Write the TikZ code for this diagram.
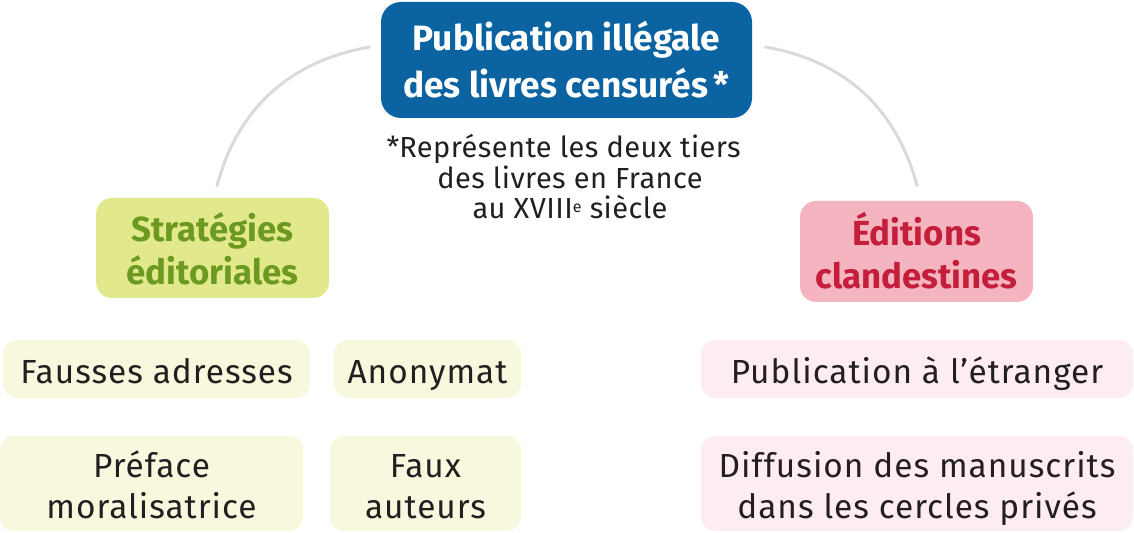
\documentclass[tikz,border=0pt]{standalone}
\usepackage{fontspec}
\setmainfont{Fira Sans}
\usepackage{tikz}
\usetikzlibrary{positioning}

\definecolor{mainblue}{HTML}{0B63A1}
\definecolor{stratfill}{HTML}{E2E98C}
\definecolor{strattext}{HTML}{6C9A20}
\definecolor{editfill}{HTML}{F4B5C0}
\definecolor{edittext}{HTML}{C41E3A}
\definecolor{stratlight}{HTML}{F8F8DE}
\definecolor{editlight}{HTML}{FDEDF0}
\definecolor{linkgray}{HTML}{DADADA}
\definecolor{inkdark}{HTML}{231F20}

\newcommand{\supe}{{\fontsize{8}{8}\selectfont\raisebox{0.75ex}{e}}}
\newcommand{\toprule}[1]{\rule{0pt}{#1}}
\newcommand{\botrule}[1]{\rule[-#1]{0pt}{#1}}

\begin{document}
\begin{tikzpicture}[x=0.5pt,y=-0.5pt,
    box/.style={inner sep=0pt,align=center,text=inkdark,
      font=\fontsize{16.7}{20.5}\selectfont\addfontfeature{LetterSpace=3}},
    oneline/.style={text height=15pt,text depth=0pt},
    titlebox/.style={box,fill=mainblue,text=white,rounded corners=10pt,
      font=\fontsize{17.6}{23.5}\selectfont\bfseries},
    catbox/.style={box,rounded corners=8pt,minimum width=116.5pt,
      font=\fontsize{17.4}{21.5}\selectfont\bfseries},
    stratitem/.style={box,fill=stratlight,rounded corners=7pt},
    edititem/.style={box,fill=editlight,rounded corners=7pt},
    link/.style={draw=linkgray,line width=1.5pt,line cap=round}]
  \useasboundingbox (0,0) rectangle (1134,533);

  \node[titlebox,minimum width=185.5pt,minimum height=58pt] (main) at (566.5,60)
    {Publication illégale\\des livres censurés\,*};
  \node[box,font=\fontsize{14.5}{15.25}\selectfont\addfontfeature{LetterSpace=1.5}] (note) at (570,177)
    {\llap{*}Représente les deux tiers\\des livres en France\\au XVIII\supe{} siècle};

  \node[catbox,fill=stratfill,text=strattext,minimum height=50pt] (strat) at (212.5,248)
    {\toprule{18pt}Stratégies\\éditoriales\botrule{2.5pt}};
  \node[catbox,fill=editfill,text=edittext,minimum height=50.5pt] (edit) at (916.5,251.5)
    {\toprule{18pt}Éditions\\clandestines\botrule{2.5pt}};

  \node[stratitem,oneline,minimum width=153.5pt,minimum height=29pt] (fausses) at (156.5,369) {Fausses adresses};
  \node[stratitem,oneline,minimum width=93.5pt,minimum height=29pt] (anonymat) at (427.5,369) {Anonymat};
  \node[stratitem,minimum width=151.5pt,minimum height=47.5pt] (preface) at (151.5,483.5)
    {\toprule{19pt}Préface\\moralisatrice\botrule{5pt}};
  \node[stratitem,minimum width=95.5pt,minimum height=47.5pt] (faux) at (425.5,483.5)
    {\toprule{19pt}Faux\\auteurs\botrule{5pt}};

  \node[edititem,oneline,minimum width=216pt,minimum height=29pt] (etranger) at (917,369) {Publication à l’étranger};
  \node[edititem,minimum width=216pt,minimum height=47.5pt] (diffusion) at (917,483.5)
    {\toprule{19pt}Diffusion des manuscrits\\dans les cercles privés\botrule{5pt}};

  \draw[link] ([shift={(-11,-13)}]main.west) to[out=190,in=75] ([shift={(4.5,-12)}]strat.north);
  \draw[link] ([shift={(13,-13)}]main.east) to[out=-10,in=105] ([shift={(0.5,-15)}]edit.north);
\end{tikzpicture}
\end{document}
